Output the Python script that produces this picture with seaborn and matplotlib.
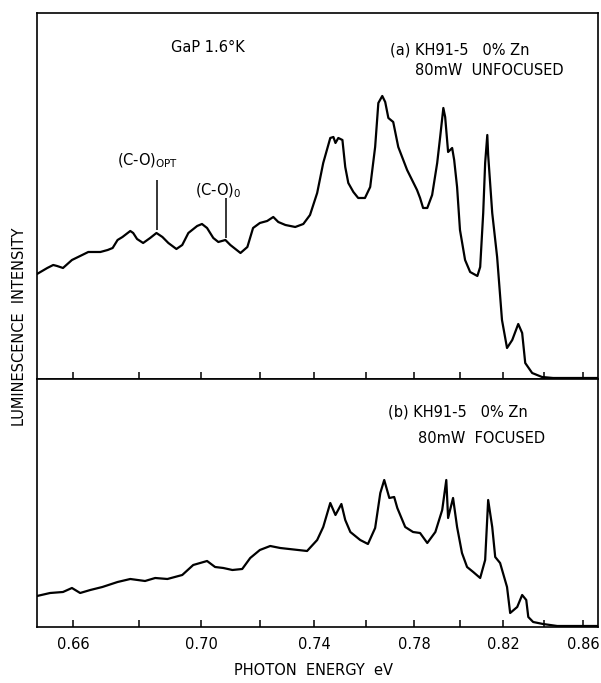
import numpy as np
import pandas as pd
import matplotlib
matplotlib.use("Agg")
import matplotlib.pyplot as plt
from matplotlib.ticker import FixedLocator, NullFormatter, FormatStrFormatter
import seaborn as sns

# ---------------- data ----------------
# (a) 80 mW unfocused : photon energy (eV), luminescence intensity (arb. units)
energy_a = [0.6497, 0.6526, 0.6543, 0.6554, 0.6571, 0.6597, 0.6621, 0.6645, 0.6681, 0.6703,
            0.6718, 0.6733, 0.6748, 0.6772, 0.6781, 0.6793, 0.6812, 0.6834, 0.6854, 0.6873,
            0.6892, 0.6918, 0.6937, 0.6957, 0.6986, 0.7002, 0.7019, 0.7040, 0.7057, 0.7081,
            0.7098, 0.7133, 0.7157, 0.7177, 0.7201, 0.7227, 0.7249, 0.7267, 0.7293, 0.7329,
            0.7359, 0.7384, 0.7411, 0.7434, 0.7461, 0.7473, 0.7481, 0.7492, 0.7508, 0.7519,
            0.7531, 0.7551, 0.7570, 0.7597, 0.7618, 0.7638, 0.7651, 0.7667, 0.7679, 0.7692,
            0.7712, 0.7733, 0.7770, 0.7812, 0.7825, 0.7838, 0.7856, 0.7877, 0.7899, 0.7912,
            0.7926, 0.7934, 0.7947, 0.7956, 0.7965, 0.7974, 0.7987, 0.8000, 0.8023, 0.8046,
            0.8079, 0.8092, 0.8106, 0.8115, 0.8125, 0.8129, 0.8148, 0.8171, 0.8194, 0.8218,
            0.8243, 0.8272, 0.8291, 0.8306, 0.8340, 0.8389, 0.8445, 0.8680]
intensity_a = [10.5, 11.1, 11.4, 11.3, 11.1, 11.9, 12.3, 12.7, 12.7, 12.9,
               13.1, 13.9, 14.2, 14.8, 14.6, 14.0, 13.6, 14.1, 14.6, 14.2,
               13.6, 13.0, 13.4, 14.6, 15.3, 15.5, 15.1, 14.1, 13.7, 13.9,
               13.4, 12.6, 13.2, 15.1, 15.6, 15.8, 16.2, 15.7, 15.4, 15.2,
               15.5, 16.4, 18.6, 21.6, 24.1, 24.2, 23.6, 24.1, 23.9, 21.2,
               19.6, 18.7, 18.1, 18.1, 19.2, 23.2, 27.6, 28.3, 27.7, 26.1,
               25.7, 23.2, 20.9, 18.9, 18.1, 17.1, 17.1, 18.4, 21.6, 24.2,
               27.1, 26.2, 22.7, 22.9, 23.1, 21.9, 19.2, 14.9, 11.9, 10.7,
               10.3, 11.2, 16.6, 21.6, 24.4, 22.4, 16.6, 12.2, 5.9, 3.1,
               3.9, 5.5, 4.6, 1.6, 0.6, 0.2, 0.1, 0.1]

# (b) 80 mW focused
energy_b = [0.6497, 0.6534, 0.6571, 0.6597, 0.6621, 0.6651, 0.6687, 0.6733, 0.6772, 0.6818,
            0.6850, 0.6889, 0.6937, 0.6973, 0.7019, 0.7046, 0.7074, 0.7105, 0.7139, 0.7167,
            0.7201, 0.7238, 0.7274, 0.7373, 0.7411, 0.7434, 0.7461, 0.7481, 0.7504, 0.7519,
            0.7539, 0.7578, 0.7609, 0.7638, 0.7659, 0.7675, 0.7696, 0.7716, 0.7729, 0.7762,
            0.7795, 0.7825, 0.7856, 0.7891, 0.7921, 0.7939, 0.7947, 0.7969, 0.7987, 0.8009,
            0.8032, 0.8060, 0.8092, 0.8115, 0.8129, 0.8148, 0.8162, 0.8185, 0.8218, 0.8233,
            0.8267, 0.8291, 0.8311, 0.8321, 0.8345, 0.8394, 0.8466, 0.8680]
intensity_b = [3.1, 3.4, 3.5, 3.9, 3.4, 3.7, 4.0, 4.5, 4.8, 4.6,
               4.9, 4.8, 5.2, 6.2, 6.6, 6.0, 5.9, 5.7, 5.8, 6.9,
               7.7, 8.1, 7.9, 7.6, 8.7, 10.0, 12.4, 11.2, 12.3, 10.7,
               9.5, 8.7, 8.3, 9.9, 13.4, 14.7, 12.9, 13.0, 11.9, 10.0,
               9.5, 9.4, 8.4, 9.5, 11.7, 14.7, 10.9, 12.9, 10.0, 7.4,
               6.0, 5.5, 4.9, 6.7, 12.7, 10.0, 7.0, 6.4, 4.0, 1.4,
               2.0, 3.2, 2.7, 1.0, 0.5, 0.3, 0.1, 0.1]

major_ticks = [0.66, 0.70, 0.74, 0.78, 0.82, 0.86]
minor_ticks = [0.68, 0.72, 0.76, 0.80, 0.84]

# line markers (C-O)_OPT and (C-O)_0 : energy, line bottom, line top
marker_opt = (0.6857, 14.9, 19.9)
marker_zero = (0.7084, 14.1, 18.1)

df_a = pd.DataFrame({"energy": energy_a, "intensity": intensity_a})
df_b = pd.DataFrame({"energy": energy_b, "intensity": intensity_b})

# ---------------- figure ----------------
sns.set_theme(style="white")
plt.rcParams["font.family"] = ["DejaVu Sans"]
plt.rcParams["text.color"] = "black"
plt.rcParams["axes.labelcolor"] = "black"
plt.rcParams["xtick.color"] = "black"
plt.rcParams["ytick.color"] = "black"

fig = plt.figure(figsize=(6.01, 6.83), dpi=100)
ax_a = fig.add_axes([0.0616, 0.4451, 0.9334, 0.5359])
ax_b = fig.add_axes([0.0616, 0.0820, 0.9334, 0.3631])


def fwd(e):
    e = np.clip(np.asarray(e, dtype=float), 1e-3, None)
    return -np.power(e, -1.25)


def inv(v):
    v = np.clip(-np.asarray(v, dtype=float), 1e-3, None)
    return np.power(v, -0.8)


for ax, df, ytop in ((ax_a, df_a, 36.6), (ax_b, df_b, 24.8)):
    sns.lineplot(data=df, x="energy", y="intensity", ax=ax, color="black",
                 linewidth=1.6, estimator=None, sort=False,
                 solid_joinstyle="round", solid_capstyle="round")
    ax.set_xscale("function", functions=(fwd, inv))
    ax.set_xlim(0.6497, 0.868)
    ax.set_ylim(0, ytop)
    ax.set_xlabel("")
    ax.set_ylabel("")
    ax.set_yticks([])
    ax.xaxis.set_major_locator(FixedLocator(major_ticks))
    ax.xaxis.set_minor_locator(FixedLocator(minor_ticks))
    ax.tick_params(axis="x", which="both", direction="in", length=5, width=1.1,
                   color="black", labelcolor="black", bottom=True, top=False,
                   labelsize=10.5, pad=7)
    for s in ax.spines.values():
        s.set_color("black")
        s.set_linewidth(1.2)
        s.set_visible(True)

ax_a.xaxis.set_major_formatter(NullFormatter())
ax_a.xaxis.set_minor_formatter(NullFormatter())
ax_b.xaxis.set_major_formatter(FormatStrFormatter("%.2f"))
ax_b.xaxis.set_minor_formatter(NullFormatter())

# marker lines
for (e, lo, hi) in (marker_opt, marker_zero):
    ax_a.vlines(e, lo, hi, color="black", linewidth=1.1)

fs = 10.5
ax_a.text(0.305, 0.907, "GaP 1.6°K", transform=ax_a.transAxes, ha="center", va="center", fontsize=fs)
ax_a.text(0.629, 0.899, "(a) KH91-5   0% Zn", transform=ax_a.transAxes, ha="left", va="center", fontsize=fs)
ax_a.text(0.674, 0.844, "80mW  UNFOCUSED", transform=ax_a.transAxes, ha="left", va="center", fontsize=fs)
ax_a.text(0.1426, 0.595, r"(C-O)$_{\mathrm{OPT}}$", transform=ax_a.transAxes, ha="left", va="center", fontsize=fs)
ax_a.text(0.2816, 0.513, r"(C-O)$_{\mathrm{0}}$", transform=ax_a.transAxes, ha="left", va="center", fontsize=fs)

ax_b.text(0.6257, 0.867, "(b) KH91-5   0% Zn", transform=ax_b.transAxes, ha="left", va="center", fontsize=fs)
ax_b.text(0.679, 0.762, "80mW  FOCUSED", transform=ax_b.transAxes, ha="left", va="center", fontsize=fs)

fig.text(0.521, 0.0176, "PHOTON  ENERGY  eV", ha="center", va="center", fontsize=fs)
fig.text(0.033, 0.521, "LUMINESCENCE  INTENSITY", ha="center", va="center", rotation=90, fontsize=fs)

fig.savefig("out.png", dpi=100, facecolor="white")
